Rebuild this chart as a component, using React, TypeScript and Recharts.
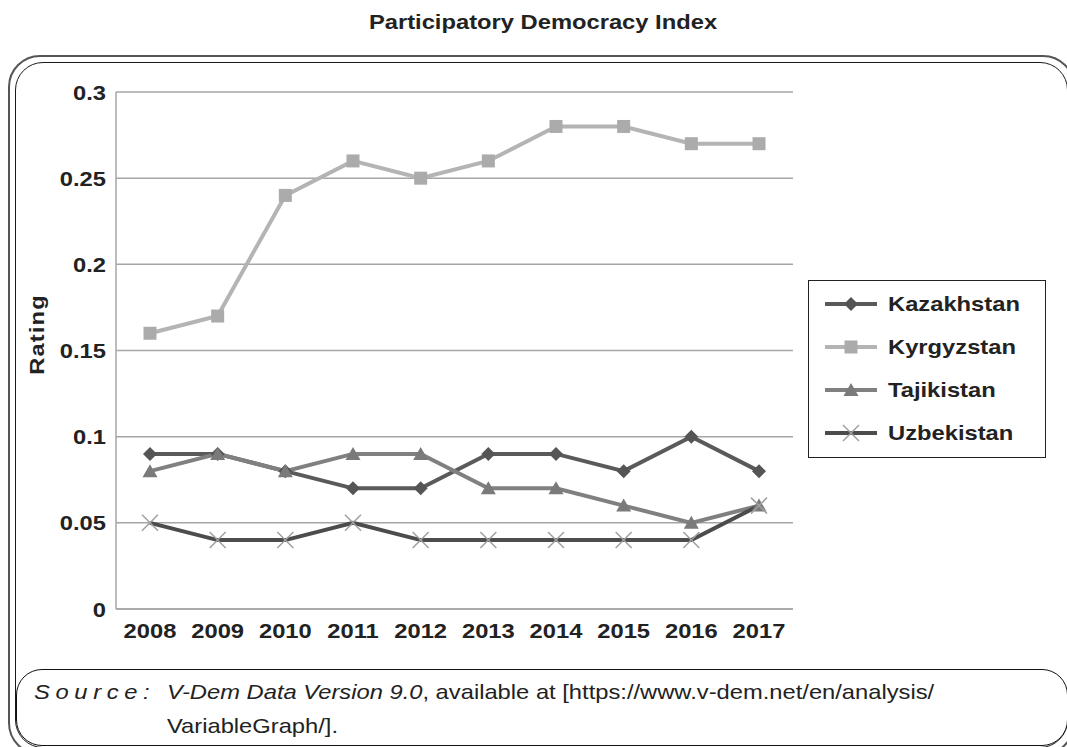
import React from 'react';
import { LineChart, Line, XAxis, YAxis, CartesianGrid } from 'recharts';

const years = ['2008', '2009', '2010', '2011', '2012', '2013', '2014', '2015', '2016', '2017'];
const kazakhstan = [0.09, 0.09, 0.08, 0.07, 0.07, 0.09, 0.09, 0.08, 0.1, 0.08];
const kyrgyzstan = [0.16, 0.17, 0.24, 0.26, 0.25, 0.26, 0.28, 0.28, 0.27, 0.27];
const tajikistan = [0.08, 0.09, 0.08, 0.09, 0.09, 0.07, 0.07, 0.06, 0.05, 0.06];
const uzbekistan = [0.05, 0.04, 0.04, 0.05, 0.04, 0.04, 0.04, 0.04, 0.04, 0.06];
const yTicks = [0, 0.05, 0.1, 0.15, 0.2, 0.25, 0.3];

const data = years.map((year, i) => ({
  year,
  Kazakhstan: kazakhstan[i],
  Kyrgyzstan: kyrgyzstan[i],
  Tajikistan: tajikistan[i],
  Uzbekistan: uzbekistan[i],
}));

const FONT = '"Liberation Sans", Arial, sans-serif';
const TEXT = '#222';
// the source picture is stretched sideways a bit, so text gets widened too
const SX = 1.13;

type MarkerKind = 'diamond' | 'square' | 'triangle' | 'cross';

const series: { key: string; color: string; marker: MarkerKind; markerColor: string }[] = [
  { key: 'Kazakhstan', color: '#5a5a5a', marker: 'diamond', markerColor: '#555' },
  { key: 'Kyrgyzstan', color: '#b4b4b4', marker: 'square', markerColor: '#ababab' },
  { key: 'Tajikistan', color: '#808080', marker: 'triangle', markerColor: '#7a7a7a' },
  { key: 'Uzbekistan', color: '#4c4c4c', marker: 'cross', markerColor: '#a0a0a0' },
];

const Marker = ({ kind, cx, cy, color }: { kind: MarkerKind; cx: number; cy: number; color: string }) => {
  if (kind === 'diamond') {
    return <path d={`M${cx},${cy - 7}L${cx + 7},${cy}L${cx},${cy + 7}L${cx - 7},${cy}Z`} fill={color} />;
  }
  if (kind === 'square') {
    return <rect x={cx - 6.5} y={cy - 6.5} width={13} height={13} fill={color} />;
  }
  if (kind === 'triangle') {
    return <path d={`M${cx},${cy - 7}L${cx + 7.5},${cy + 6}L${cx - 7.5},${cy + 6}Z`} fill={color} />;
  }
  return (
    <path
      d={`M${cx - 8},${cy - 8}L${cx + 8},${cy + 8}M${cx + 8},${cy - 8}L${cx - 8},${cy + 8}`}
      stroke={color}
      strokeWidth={1.5}
      fill="none"
    />
  );
};

const makeDot = (kind: MarkerKind, color: string) => (props: any) => {
  const { cx, cy, index } = props;
  if (cx == null || cy == null) return <g key={index} />;
  return <Marker key={index} kind={kind} cx={cx} cy={cy} color={color} />;
};

const XTick = (props: any) => {
  const { x, y, payload } = props;
  return (
    <g transform={`translate(${x},${y}) scale(${SX},1)`}>
      <text x={0} y={0} dy={15} textAnchor="middle" fill={TEXT} fontFamily={FONT} fontWeight={700} fontSize={21}>
        {payload.value}
      </text>
    </g>
  );
};

const YTick = (props: any) => {
  const { x, y, payload } = props;
  return (
    <g transform={`translate(${x},${y}) scale(${SX},1)`}>
      <text x={0} y={0} dy={7.5} textAnchor="end" fill={TEXT} fontFamily={FONT} fontWeight={700} fontSize={21}>
        {payload.value}
      </text>
    </g>
  );
};

const RatingLabel = (props: any) => {
  const { viewBox } = props;
  const cx = 44;
  const cy = viewBox.y + viewBox.height / 2 - 16;
  return (
    <g transform={`translate(${cx},${cy}) rotate(-90) scale(${SX},1)`}>
      <text x={0} y={0} textAnchor="middle" fill={TEXT} fontFamily={FONT} fontWeight={700} fontSize={21} letterSpacing={1}>
        Rating
      </text>
    </g>
  );
};

const wide = (origin: string): React.CSSProperties => ({
  transform: `scaleX(${SX})`,
  transformOrigin: origin,
});

export default function App() {
  return (
    <div style={{ position: 'absolute', left: 0, top: 0, width: 1067, height: 747, overflow: 'hidden', background: '#fff' }}>
      <div
        style={{
          position: 'absolute',
          top: 10,
          left: 0,
          width: 1086,
          textAlign: 'center',
          fontFamily: FONT,
          fontWeight: 700,
          fontSize: 21,
          color: TEXT,
          ...wide('center'),
        }}
      >
        Participatory Democracy Index
      </div>
      {/* outer double rounded frame */}
      <div
        style={{
          position: 'absolute',
          left: 8,
          top: 55,
          width: 1067,
          height: 700,
          border: '2px solid #555',
          borderRadius: 32,
          boxSizing: 'border-box',
        }}
      />
      <div
        style={{
          position: 'absolute',
          left: 15,
          top: 62,
          width: 1053,
          height: 686,
          border: '1.5px solid #1a1a1a',
          borderRadius: 28,
          boxSizing: 'border-box',
        }}
      />
      <div style={{ position: 'absolute', left: 0, top: 0 }}>
        <LineChart width={1067} height={747} data={data} margin={{ top: 92, right: 274, bottom: 108, left: 16 }}>
          <CartesianGrid vertical={false} stroke="#a6a6a6" strokeWidth={1.5} />
          <XAxis
            dataKey="year"
            height={30}
            padding={{ left: 34, right: 34 }}
            stroke="#a6a6a6"
            strokeWidth={1.5}
            tickLine={false}
            tick={<XTick />}
            tickMargin={8}
            interval={0}
          />
          <YAxis
            width={100}
            domain={[0, 0.3]}
            ticks={yTicks}
            stroke="#a6a6a6"
            strokeWidth={1.5}
            tickLine={false}
            tickMargin={4}
            tick={<YTick />}
            label={<RatingLabel />}
          />
          {series.map((s) => (
            <Line
              key={s.key}
              dataKey={s.key}
              stroke={s.color}
              strokeWidth={4}
              dot={makeDot(s.marker, s.markerColor)}
              activeDot={false}
              isAnimationActive={false}
            />
          ))}
        </LineChart>
      </div>
      {/* legend */}
      <div
        style={{
          position: 'absolute',
          left: 808,
          top: 280,
          width: 238,
          height: 178,
          border: '1.5px solid #222',
          background: '#fff',
          boxSizing: 'border-box',
          paddingTop: 1,
        }}
      >
        {series.map((s) => (
          <div key={s.key} style={{ display: 'flex', alignItems: 'center', height: 43, paddingLeft: 16 }}>
            <svg width={54} height={22} style={{ flex: 'none' }}>
              <line x1={0} y1={11} x2={52} y2={11} stroke={s.color} strokeWidth={4} />
              <Marker kind={s.marker} cx={26} cy={11} color={s.markerColor} />
            </svg>
            <span
              style={{
                fontFamily: FONT,
                fontWeight: 700,
                fontSize: 21,
                color: TEXT,
                marginLeft: 9,
                display: 'inline-block',
                ...wide('left center'),
              }}
            >
              {s.key}
            </span>
          </div>
        ))}
      </div>
      {/* source box */}
      <div
        style={{
          position: 'absolute',
          left: 16,
          top: 669,
          width: 1052,
          height: 77,
          border: '1.5px solid #111',
          borderRadius: 26,
          boxSizing: 'border-box',
          background: '#fff',
          fontFamily: FONT,
          fontSize: 21,
          color: TEXT,
        }}
      >
        <div
          style={{
            position: 'absolute',
            left: 17,
            top: 5,
            lineHeight: '34px',
            fontStyle: 'italic',
            letterSpacing: 5,
            whiteSpace: 'nowrap',
            ...wide('left top'),
          }}
        >
          Source:
        </div>
        <div
          style={{
            position: 'absolute',
            left: 150,
            top: 5,
            lineHeight: '34px',
            whiteSpace: 'nowrap',
            ...wide('left top'),
          }}
        >
          <span style={{ fontStyle: 'italic' }}>V-Dem Data Version 9.0</span>, available at [https://www.v-dem.net/en/analysis/
          <br />
          VariableGraph/].
        </div>
      </div>
    </div>
  );
}
